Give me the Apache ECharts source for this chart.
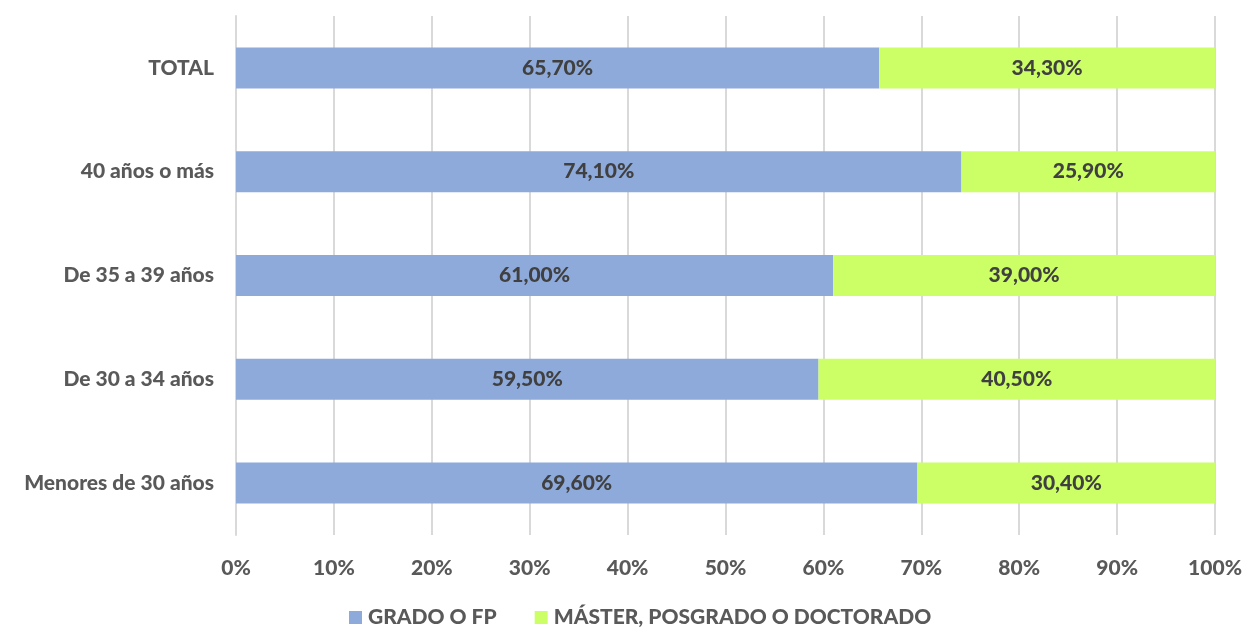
<!DOCTYPE html>
<html><head><meta charset="utf-8">
<script src="https://cdn.jsdelivr.net/npm/echarts@6/dist/echarts.min.js"></script>
<style>html,body{margin:0;padding:0;background:#fff}#c{width:1245px;height:628px}</style>
</head><body><div id="c"></div>
<script>
const categories = ["Menores de 30 años", "De 30 a 34 años", "De 35 a 39 años", "40 años o más", "TOTAL"];
const grado = [69.6, 59.5, 61.0, 74.1, 65.7];
const master = [30.4, 40.5, 39.0, 25.9, 34.3];
const seriesNames = ["GRADO O FP", "MÁSTER, POSGRADO O DOCTORADO"];
const FONT = "Lato";
const FS = 21;
const FW = 900;
const fmt = v => v.toFixed(2).replace('.', ',') + '%';
const chart = echarts.init(document.getElementById('c'));
chart.setOption({
  animation: false,
  textStyle: { fontFamily: FONT },
  grid: { left: 236, right: 29, top: 16, bottom: 93 },
  legend: {
    top: 607, left: 349, itemWidth: 13, itemHeight: 13, itemGap: 38,
    icon: 'rect', padding: 0,
    textStyle: { fontFamily: FONT, fontWeight: FW, fontSize: FS, color: '#595959', padding: [0, 0, 0, 1] },
    data: seriesNames
  },
  xAxis: {
    type: 'value', min: 0, max: 100, interval: 10,
    axisLabel: { formatter: '{value}%', fontFamily: FONT, fontWeight: FW, fontSize: FS, color: '#595959', margin: 23 },
    splitLine: { show: true, lineStyle: { color: '#d9d9d9', width: 2 } },
    axisLine: { show: false }, axisTick: { show: false }
  },
  yAxis: {
    type: 'category', data: categories,
    axisLabel: { fontFamily: FONT, fontWeight: FW, fontSize: FS, color: '#595959', margin: 22 },
    axisLine: { show: true, lineStyle: { color: '#d9d9d9', width: 2 } },
    axisTick: { show: false }
  },
  series: [
    { name: seriesNames[0], type: 'bar', stack: 't', data: grado, barWidth: 41,
      itemStyle: { color: '#8eaadb' },
      label: { show: true, position: 'inside', formatter: p => fmt(p.value), fontFamily: FONT, fontWeight: FW, fontSize: FS, color: '#404040' } },
    { name: seriesNames[1], type: 'bar', stack: 't', data: master, barWidth: 41,
      itemStyle: { color: '#ccff66' },
      label: { show: true, position: 'inside', formatter: p => fmt(p.value), fontFamily: FONT, fontWeight: FW, fontSize: FS, color: '#404040' } }
  ]
});
</script></body></html>
